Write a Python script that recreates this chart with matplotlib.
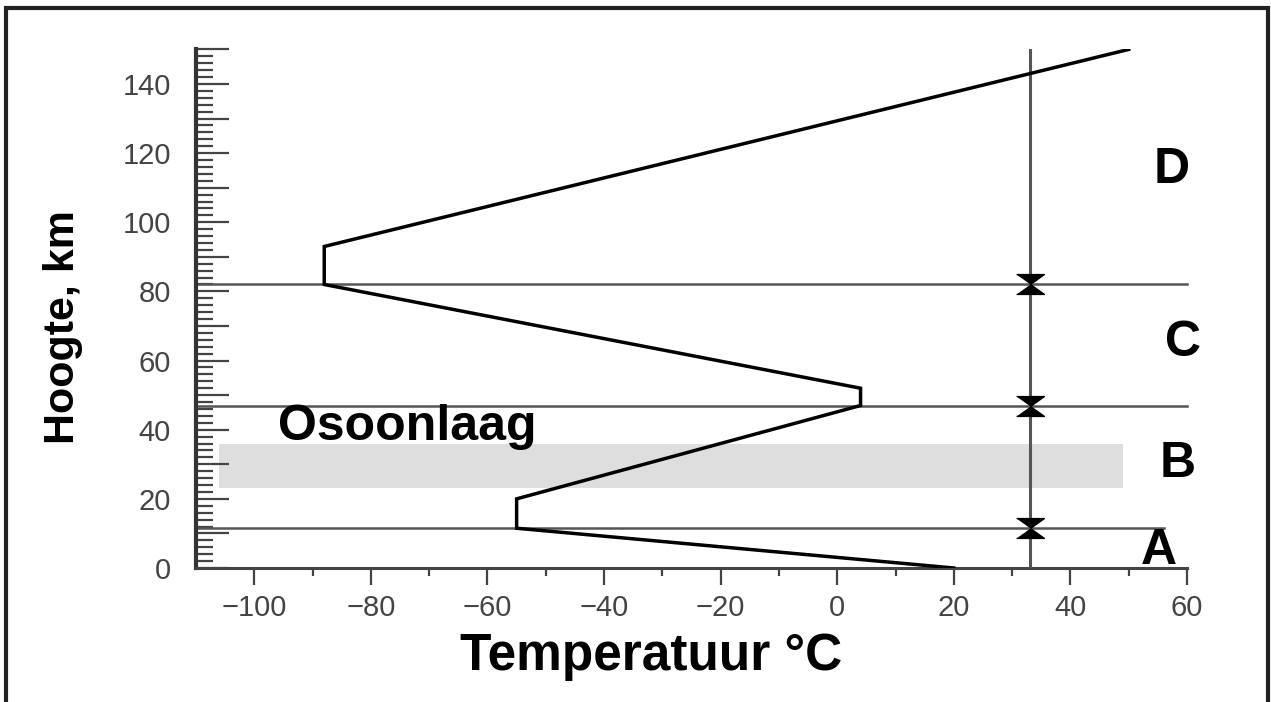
import matplotlib
matplotlib.use("Agg")
import matplotlib.pyplot as plt
from matplotlib.ticker import MultipleLocator, FixedLocator, FuncFormatter
from matplotlib.patches import Rectangle
import numpy as np

# ---- data ----
temp_profile = [20, -55, -55, 4, 4, -88, -88, 50]      # °C
height_profile = [0, 11.5, 20, 47, 52, 82, 93, 150]    # km
layer_bounds = [11.5, 47, 82]                          # km
layer_labels = ["A", "B", "C", "D"]
layer_label_x = [55.2, 58.4, 59.3, 57.3]
layer_label_y = [5, 30, 65, 115]
ozone_bottom, ozone_top = 23, 36
ozone_x = [-106, 49]
ozone_label = "Osoonlaag"
divider_x = 33
xlabel = "Temperatuur °C"
ylabel = "Hoogte, km"

plt.rcParams['font.family'] = ['Liberation Sans', 'DejaVu Sans']

W, H = 1271, 702
fig = plt.figure(figsize=(W / 100, H / 100), dpi=100)
ax = fig.add_axes([196 / W, 1 - 568 / H, 991 / W, 518.6 / H])
ax.set_xlim(-110, 60)
ax.set_ylim(0, 150)

# outer frame
fig.add_artist(Rectangle((6 / W, -0.05), (1268 - 6) / W, 1 - 8 / H + 0.05,
                         transform=fig.transFigure, fill=False, lw=3,
                         ec='#222222', clip_on=False))

# ozone band
ax.fill_between(ozone_x, ozone_bottom, ozone_top, color='#dedede', lw=0, zorder=1)

# layer boundary lines
bound_xmax = [56, 60, 60]
for yb, xm in zip(layer_bounds, bound_xmax):
    ax.plot([-110, xm], [yb, yb], color='#555555', lw=1.8, zorder=2, clip_on=False)

# vertical divider
ax.plot([divider_x, divider_x], [0, 150], color='#555555', lw=2.2, zorder=3)
down_tri = [(-1.4, 1.0), (1.4, 1.0), (0.0, 0.0)]
up_tri = [(-1.4, -1.0), (1.4, -1.0), (0.0, 0.0)]
ax.plot([divider_x] * len(layer_bounds), layer_bounds, ls='none',
        marker=down_tri, ms=20, color='black', zorder=4)
ax.plot([divider_x] * len(layer_bounds), layer_bounds, ls='none',
        marker=up_tri, ms=20, color='black', zorder=4)

# temperature profile
ax.plot(temp_profile, height_profile, color='black', lw=2.5, zorder=5,
        solid_joinstyle='miter')

# texts
ax.text(-96, 37, ozone_label, fontsize=36, fontweight='bold', ha='left',
        va='baseline', zorder=6)
for lab, lx, ly in zip(layer_labels, layer_label_x, layer_label_y):
    ax.text(lx, ly, lab, fontsize=36, fontweight='bold', ha='center',
            va='center', clip_on=False, zorder=6)

# spines
for s in ['top', 'right']:
    ax.spines[s].set_visible(False)
ax.spines['left'].set_linewidth(3)
ax.spines['left'].set_color('#333333')
ax.spines['bottom'].set_linewidth(2.2)
ax.spines['bottom'].set_color('#444444')

# x ticks
ax.xaxis.set_major_locator(MultipleLocator(20))
ax.xaxis.set_minor_locator(FixedLocator(np.arange(-90, 51, 20)))
ax.tick_params(axis='x', which='major', direction='out', length=12, width=1.6,
               color='#444444', labelsize=21, labelcolor='#444444', pad=7)
ax.tick_params(axis='x', which='minor', direction='out', length=6, width=1.6,
               color='#444444')

# y ticks
ax.yaxis.set_major_locator(MultipleLocator(10))
ax.yaxis.set_minor_locator(MultipleLocator(2))
ax.yaxis.set_major_formatter(FuncFormatter(
    lambda v, p: f"{int(round(v))}" if int(round(v)) % 20 == 0 else ""))
ax.tick_params(axis='y', which='major', direction='in', length=24, width=1.6,
               color='#444444', labelsize=21, labelcolor='#444444', pad=18)
ax.tick_params(axis='y', which='minor', direction='in', length=12, width=1.6,
               color='#444444')

# axis labels
ax.set_xlabel(xlabel, fontsize=37, fontweight='bold')
ax.xaxis.set_label_coords((651 - 196) / 991, (568 - 670) / 518.6)
ax.xaxis.label.set_va('baseline')
ax.set_ylabel(ylabel, fontsize=31, fontweight='bold')
ax.yaxis.set_label_coords((74 - 196) / 991, 0.465)
ax.yaxis.label.set_va('baseline')

fig.savefig("out.png", dpi=100)
